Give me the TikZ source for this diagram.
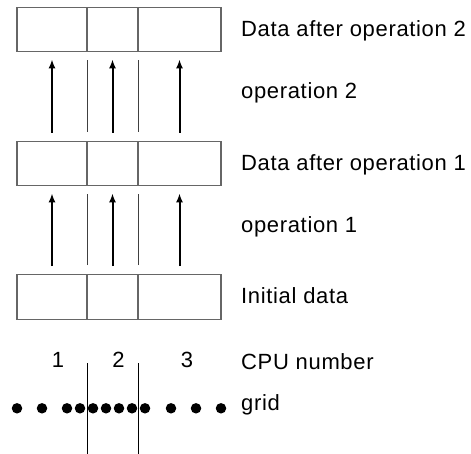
\documentclass[tikz,border=0pt]{standalone}
\usepackage{fontspec}
\setmainfont[LetterSpace=3]{Liberation Sans}
\usetikzlibrary{arrows.meta}

\begin{document}
\begin{tikzpicture}[x=1pt,y=-1pt,
  cell/.style={draw=black!60, line width=1.2pt, rectangle, inner sep=0pt,
               minimum height=44.5pt},
  wA/.style={cell, minimum width=70pt},
  wB/.style={cell, minimum width=51pt},
  wC/.style={cell, minimum width=83pt},
  oparrow/.style={line width=2pt, -{Latex[length=9pt,width=7pt]},
                  shorten <=8pt, shorten >=7pt},
  divider/.style={line width=0.9pt, draw=black!75, shorten <=9pt, shorten >=8pt},
  cutline/.style={line width=0.9pt, draw=black},
  lbl/.style={anchor=base west, inner sep=0pt, font=\fontsize{22}{26}\selectfont},
  cpu/.style={anchor=base, inner sep=0pt, font=\fontsize{22}{26}\selectfont},
  gpt/.style={circle, fill=black, inner sep=0pt, minimum size=10.5pt}
]
\useasboundingbox (0,0) rectangle (471,454);

% three rows of data, three cells per row
\foreach \r/\y in {0/297, 1/163.5, 2/29.5} {
  \node[wA] (r\r c1) at (52,\y) {};
  \node[wB] (r\r c2) at (112.5,\y) {};
  \node[wC] (r\r c3) at (179.5,\y) {};
}

% operations carried out by each CPU
\foreach \a/\b in {0/1, 1/2} {
  \foreach \c in {1,2,3} {
    \draw[oparrow] (r\a c\c) -- (r\b c\c);
  }
  \draw[divider] (r\a c1.north east) -- (r\b c1.south east);
  \draw[divider] (r\a c2.north east) -- (r\b c2.south east);
}

% labels on the right
\node[lbl] (t2) at (241,37) {Data after operation 2};
\node[lbl] (o2) at (241,98.3) {operation 2};
\node[lbl] (t1) at (241,171) {Data after operation 1};
\node[lbl] (o1) at (241,232.3) {operation 1};
\node[lbl] (t0) at (241,303.3) {Initial data};
\node[lbl] (tc) at (241,369) {CPU number};
\node[lbl] (tg) at (241,410) {grid};

% CPU numbers
\node[cpu] (n1) at (58,367) {1};
\node[cpu] (n2) at (118.5,367) {2};
\node[cpu] (n3) at (187,367) {3};

% partition of the grid between CPUs
\coordinate (p1t) at (87,363);
\coordinate (p1b) at (87,454);
\coordinate (p2t) at (138,363);
\coordinate (p2b) at (138,454);
\draw[cutline] (p1t) -- (p1b);
\draw[cutline] (p2t) -- (p2b);

% grid points
\foreach \i/\x in {1/17, 2/42, 3/67, 4/80, 5/93, 6/106, 7/119, 8/132, 9/145, 10/171, 11/196, 12/221} {
  \node[gpt] (g\i) at (\x,408.3) {};
}
\end{tikzpicture}
\end{document}
